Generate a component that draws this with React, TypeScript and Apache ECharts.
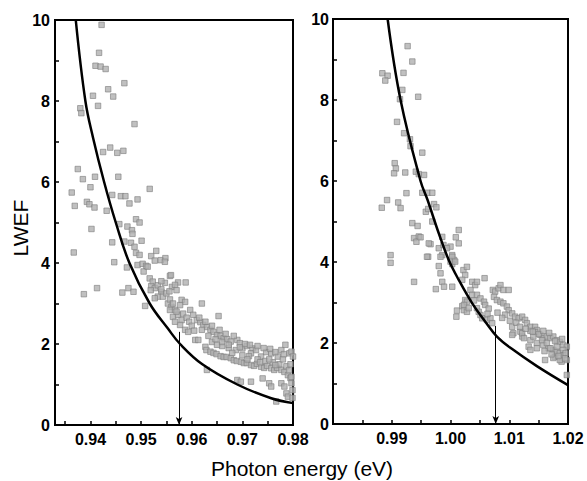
import React, { useEffect, useRef } from "react";
import * as echarts from "echarts";

// ---- Data ----
const leftCurveX = [0.9371, 0.939, 0.9405, 0.9427, 0.945, 0.9477, 0.9517, 0.9553, 0.9577, 0.9621, 0.969, 0.9757, 0.98];
const leftCurveY = [10, 8.0, 7.1, 6.0, 5.0, 4.0, 3.0, 2.38, 2.0, 1.5, 1.0, 0.66, 0.54];

const rightCurveX = [0.9893, 0.9915, 0.9949, 0.9961, 0.998, 0.9997, 1.0014, 1.0037, 1.0059, 1.0079, 1.0105, 1.0147, 1.02];
const rightCurveY = [10, 8.0, 6.0, 5.53, 4.71, 4.05, 3.56, 2.98, 2.53, 2.16, 1.85, 1.43, 0.96];

const leftArrow = { x: 0.9575, top: 2.3 };
const rightArrow = { x: 1.0077, top: 2.42 };

const leftPoints: [number, number][] = [
  [0.9422, 9.88], [0.9417, 9.19], [0.941, 8.87], [0.942, 8.85], [0.943, 8.79], [0.9467, 8.44], [0.9435, 8.29],
  [0.9445, 8.11], [0.9405, 8.13], [0.9415, 7.88], [0.938, 7.82], [0.9382, 7.7], [0.9487, 7.43], [0.9439, 6.85],
  [0.9425, 6.74], [0.9453, 6.72], [0.9465, 6.77], [0.9375, 6.32], [0.9385, 6.07], [0.9409, 6.13], [0.9455, 6.13],
  [0.94, 5.87], [0.9363, 5.74], [0.9517, 5.83], [0.9369, 5.41], [0.9393, 5.51], [0.9398, 5.45], [0.9408, 5.37],
  [0.9432, 5.29], [0.9443, 5.68], [0.946, 5.65], [0.9469, 5.65], [0.9477, 5.47], [0.9493, 5.57], [0.949, 5.08],
  [0.9497, 5.0], [0.9402, 4.84], [0.9473, 4.9], [0.9482, 4.81], [0.9483, 4.72], [0.9457, 4.96],
  [0.9367, 4.26], [0.9443, 4.51], [0.9467, 4.53], [0.948, 4.5], [0.9487, 4.4], [0.9501, 4.55], [0.949, 4.25],
  [0.9497, 4.2], [0.9447, 4.02], [0.9472, 3.89], [0.952, 4.17], [0.953, 4.3], [0.9527, 4.06], [0.9539, 4.07],
  [0.9548, 4.12], [0.9547, 4.03], [0.9493, 3.95], [0.9503, 3.98], [0.951, 3.93], [0.9505, 3.79], [0.9513, 3.91],
  [0.9557, 3.68], [0.9517, 3.62], [0.9523, 3.54], [0.952, 3.43], [0.9527, 3.38], [0.9519, 3.33], [0.9547, 3.51],
  [0.9561, 3.41], [0.9413, 3.38], [0.9387, 3.23], [0.9463, 3.27], [0.9475, 3.38], [0.9485, 3.29], [0.954, 3.29],
  [0.9533, 3.17], [0.9527, 3.13], [0.9543, 3.17], [0.9553, 3.0], [0.956, 2.92], [0.9557, 2.84], [0.9508, 2.94],
  [0.9559, 3.7], [0.9573, 3.52], [0.9588, 3.52], [0.9567, 3.46], [0.957, 3.33], [0.958, 3.09], [0.9587, 3.04],
  [0.9577, 2.96], [0.962, 3.0], [0.9653, 2.69],
  [0.9567, 2.84], [0.9563, 2.67], [0.9573, 2.72], [0.958, 2.59], [0.9577, 2.47], [0.9567, 2.55], [0.9587, 2.35],
  [0.9593, 2.3], [0.9607, 2.1], [0.9613, 2.1], [0.9627, 1.93],
  [0.9597, 2.84], [0.9603, 2.72], [0.961, 2.59], [0.9617, 2.54], [0.9623, 2.47], [0.963, 2.42], [0.9637, 2.35],
  [0.9643, 2.3], [0.965, 2.22], [0.9657, 2.2], [0.9663, 2.14], [0.967, 2.12], [0.9677, 2.06], [0.969, 2.1],
  [0.97, 1.89], [0.9709, 1.95], [0.972, 1.89], [0.9717, 1.77], [0.9727, 1.85], [0.9737, 1.69], [0.9747, 1.8],
  [0.9757, 1.77], [0.977, 1.69], [0.9777, 1.85], [0.9785, 1.98], [0.9793, 1.77], [0.9797, 1.81], [0.98, 1.69],
  [0.9629, 1.85], [0.9637, 1.81], [0.9643, 1.78], [0.9649, 1.75], [0.9657, 1.7], [0.9663, 1.68], [0.9669, 1.68],
  [0.9677, 1.65], [0.9683, 1.6], [0.9689, 1.58], [0.9697, 1.56], [0.9703, 1.53], [0.9709, 1.53], [0.9717, 1.48],
  [0.9723, 1.46], [0.9729, 1.51], [0.9737, 1.44], [0.9743, 1.41], [0.9749, 1.46], [0.9757, 1.4], [0.9763, 1.36],
  [0.9769, 1.41], [0.9777, 1.36], [0.9783, 1.31], [0.979, 1.23], [0.9795, 1.16],
  [0.963, 1.36], [0.969, 1.11], [0.9697, 1.07], [0.9717, 1.07], [0.974, 1.15], [0.9753, 1.03], [0.9757, 0.95],
  [0.9767, 0.58], [0.9777, 1.03], [0.9783, 0.95], [0.9787, 0.78], [0.979, 0.7], [0.9797, 1.19], [0.9797, 1.03],
  [0.9799, 0.86], [0.9799, 0.67],
  [0.9533, 3.45], [0.954, 3.35], [0.955, 3.25], [0.9557, 3.1], [0.9563, 3.0], [0.957, 2.8], [0.9583, 2.75],
  [0.959, 2.65], [0.9595, 2.55], [0.96, 2.45], [0.9605, 2.33], [0.954, 3.55], [0.9556, 3.3],
  [0.966, 1.95], [0.9673, 1.9], [0.9687, 1.85], [0.97, 1.72], [0.9713, 1.7], [0.973, 1.62], [0.9745, 1.58],
  [0.976, 1.55], [0.9773, 1.5], [0.9787, 1.45], [0.9795, 1.5], [0.964, 2.05], [0.965, 1.98], [0.968, 1.78],
  [0.971, 1.62], [0.9735, 1.55], [0.9753, 1.62], [0.9765, 1.48], [0.978, 1.62], [0.9792, 1.35],
  [0.9615, 2.65], [0.9627, 2.55], [0.964, 2.45], [0.9655, 2.35], [0.9667, 2.25], [0.9683, 2.2], [0.9695, 2.02],
  [0.9705, 2.0], [0.9715, 1.98], [0.973, 1.95], [0.9742, 1.9], [0.9755, 1.88], [0.9765, 1.8], [0.9782, 1.75],
  [0.962, 2.35], [0.9633, 2.2], [0.9647, 2.12], [0.966, 2.05], [0.9673, 1.98], [0.9695, 1.92],
];

const rightPoints: [number, number][] = [
  [0.9927, 9.33], [0.9935, 8.95], [0.9884, 8.66], [0.9893, 8.6], [0.9889, 8.48], [0.992, 8.67], [0.9914, 8.02],
  [0.9945, 8.08], [0.9918, 8.25], [0.9909, 7.46], [0.9921, 7.18], [0.9931, 7.03], [0.9932, 6.86], [0.9952, 6.7],
  [0.9905, 6.44], [0.9907, 6.31], [0.9904, 6.19], [0.9923, 6.21], [0.9941, 6.23], [0.9946, 6.17], [0.9955, 6.15],
  [0.9925, 5.7], [0.9952, 5.71], [0.9961, 5.71], [0.9969, 5.71], [0.9892, 5.53], [0.9883, 5.34], [0.9911, 5.47],
  [0.9915, 5.33], [0.9958, 5.24], [0.9962, 5.31], [0.9972, 5.43], [0.9976, 5.35], [0.9935, 4.96], [0.9944, 4.89],
  [1.0014, 4.79], [1.0009, 4.61], [0.9938, 4.59], [0.9946, 4.63],
  [0.9969, 5.0], [0.9942, 4.5], [0.9949, 4.61], [0.9966, 4.44], [0.998, 4.34], [0.9986, 4.17], [1.0, 4.38],
  [1.0014, 4.46], [0.9898, 4.17], [0.9898, 3.98], [0.9962, 4.13], [0.9983, 4.13], [1.0003, 4.17], [1.0006, 4.05],
  [1.0003, 3.95], [0.998, 3.9], [0.9983, 3.72], [1.0022, 3.8], [1.0028, 3.88], [1.0025, 3.68], [1.002, 3.56],
  [1.0037, 3.51], [1.0042, 3.43], [1.0045, 3.51], [0.9938, 3.51], [0.9986, 3.51], [0.9989, 3.39], [1.0003, 3.39],
  [0.9975, 3.33],
  [1.001, 2.65], [1.0011, 2.8], [1.002, 2.91], [1.0023, 2.81], [1.0025, 3.06], [1.0028, 3.02], [1.0058, 3.6],
  [1.0034, 3.31], [1.0037, 3.19], [1.0045, 3.19], [1.0051, 3.1], [1.0057, 3.02], [1.0059, 2.94], [1.0045, 2.86],
  [1.0048, 2.77], [1.0051, 2.69], [1.0054, 2.61], [1.0062, 2.57], [1.0068, 2.61], [1.0071, 2.49], [1.0072, 3.31],
  [1.0076, 3.27], [1.0082, 3.35], [1.0085, 3.43], [1.009, 3.31], [1.0074, 3.14], [1.0079, 3.06], [1.0085, 3.02],
  [1.009, 2.98], [1.0096, 2.9], [1.0099, 2.81], [1.0099, 3.31], [1.0105, 2.73], [1.011, 2.65], [1.0116, 2.61],
  [1.0122, 2.65], [1.0127, 2.57], [1.0105, 2.4], [1.0107, 2.24], [1.0119, 2.28], [1.0122, 2.16], [1.013, 2.49],
  [1.0136, 2.4], [1.0144, 2.4], [1.0147, 2.32],
  [1.0153, 2.2], [1.0158, 2.12], [1.0164, 2.16], [1.017, 2.12], [1.0175, 2.16], [1.0181, 2.07], [1.0186, 2.03],
  [1.0192, 1.95], [1.0198, 1.91],
  [1.0158, 1.95], [1.0167, 1.87], [1.0175, 1.83], [1.0181, 1.79], [1.0186, 1.75], [1.0192, 1.7], [1.0161, 1.58],
  [1.0178, 1.66], [1.0189, 1.54], [1.0198, 1.21],
  [0.9986, 4.62], [0.9988, 4.42], [0.9994, 4.34], [1.0003, 4.13], [1.0, 4.01], [1.0008, 4.01], [1.0023, 2.94],
  [1.0028, 2.77], [1.0031, 2.86], [1.0133, 1.91], [1.0136, 2.3], [1.0144, 2.27], [1.015, 2.22],
  [1.0105, 2.2], [1.0122, 2.24], [1.0125, 2.12], [1.0136, 2.07], [1.0141, 2.16], [1.0147, 2.0], [1.0156, 2.07],
  [1.0164, 2.0], [1.017, 1.87], [1.0181, 1.91], [1.0186, 1.58], [1.0192, 1.83], [1.0175, 1.63], [1.0198, 1.58],
  [1.0136, 1.83], [1.0147, 1.87], [0.9963, 4.46], [0.996, 4.13],
  [1.0065, 2.85], [1.008, 2.75], [1.0093, 2.7], [1.0112, 2.5], [1.0118, 2.4], [1.0128, 2.35], [1.014, 2.28],
  [1.0158, 2.3], [1.0168, 2.25], [1.0178, 2.05], [1.019, 2.1], [1.0196, 1.75], [1.016, 1.8], [1.0172, 1.72],
  [1.0184, 1.68], [1.0195, 1.62], [1.004, 3.05], [1.0063, 2.72], [1.0088, 2.62], [1.0101, 2.55],
];

const yTickLabels = ["0", "2", "4", "6", "8", "10"];

const FONT = '"Liberation Sans", Arial, sans-serif';

function zip(xs: number[], ys: number[]): [number, number][] {
  return xs.map((x, i) => [x, ys[i]]);
}

export default function App() {
  const ref = useRef<HTMLDivElement>(null);

  useEffect(() => {
    if (!ref.current) return;
    const chart = echarts.init(ref.current, undefined, { renderer: "svg" });

    const tickLabelStyle = {
      color: "#000",
      fontFamily: FONT,
      fontWeight: "bold" as const,
      fontSize: 16,
    };

    const xBase = {
      type: "value" as const,
      axisLine: { show: true, onZero: false, lineStyle: { color: "#000", width: 2 } },
      axisTick: { show: true, inside: true, length: 4, lineStyle: { color: "#000", width: 1.5 } },
      splitLine: { show: false },
    };

    const yBase = {
      type: "value" as const,
      min: 0,
      max: 10,
      interval: 1,
      axisLine: { show: true, lineStyle: { color: "#000", width: 2 } },
      axisTick: { show: true, inside: true, length: 4, lineStyle: { color: "#000", width: 1.5 } },
      splitLine: { show: false },
      axisLabel: {
        ...tickLabelStyle,
        margin: 5,
        formatter: (v: number) => {
          const s = String(Math.round(v));
          return yTickLabels.includes(s) ? s : "";
        },
      },
    };

    const isHundredth = (v: number) => Math.abs(v * 100 - Math.round(v * 100)) < 1e-6;

    const arrowMark = (a: { x: number; top: number }) => ({
      silent: true,
      symbol: ["none", "arrow"],
      symbolSize: [5, 8],
      label: { show: false },
      lineStyle: { color: "#000", width: 1, type: "solid" as const },
      data: [[{ coord: [a.x, a.top] }, { coord: [a.x, 0] }]],
    });

    const scatterStyle = {
      color: "#b0b0b0",
      borderColor: "#808080",
      borderWidth: 0.8,
    };

    chart.setOption({
      animation: false,
      backgroundColor: "#fff",
      grid: [
        { left: 55, top: 20, width: 238, height: 405, show: true, borderColor: "#000", borderWidth: 2, backgroundColor: "transparent" },
        { left: 333, top: 19, width: 235, height: 405, show: true, borderColor: "#000", borderWidth: 2, backgroundColor: "transparent" },
      ],
      xAxis: [
        {
          ...xBase,
          gridIndex: 0,
          min: 0.933,
          max: 0.98,
          minInterval: 0.005,
          maxInterval: 0.005,
          axisLabel: {
            ...tickLabelStyle,
            margin: 6,
            showMinLabel: false,
            formatter: (v: number) => (isHundredth(v) ? v.toFixed(2) : ""),
          },
        },
        {
          ...xBase,
          gridIndex: 1,
          min: 0.98,
          max: 1.02,
          interval: 0.005,
          axisLabel: {
            ...tickLabelStyle,
            margin: 6,
            formatter: (v: number) => (v > 0.985 && isHundredth(v) ? v.toFixed(2) : ""),
          },
        },
      ],
      yAxis: [
        { ...yBase, gridIndex: 0 },
        { ...yBase, gridIndex: 1, axisLabel: { ...yBase.axisLabel, margin: 4 } },
      ],
      series: [
        {
          type: "scatter",
          xAxisIndex: 0,
          yAxisIndex: 0,
          symbol: "rect",
          symbolSize: 5.5,
          itemStyle: scatterStyle,
          data: leftPoints,
          z: 2,
        },
        {
          type: "line",
          xAxisIndex: 0,
          yAxisIndex: 0,
          data: zip(leftCurveX, leftCurveY),
          smooth: 0.4,
          showSymbol: false,
          lineStyle: { color: "#000", width: 2.5 },
          markLine: arrowMark(leftArrow),
          z: 3,
        },
        {
          type: "scatter",
          xAxisIndex: 1,
          yAxisIndex: 1,
          symbol: "rect",
          symbolSize: 5.5,
          itemStyle: scatterStyle,
          data: rightPoints,
          z: 2,
        },
        {
          type: "line",
          xAxisIndex: 1,
          yAxisIndex: 1,
          data: zip(rightCurveX, rightCurveY),
          smooth: 0.4,
          showSymbol: false,
          lineStyle: { color: "#000", width: 2.5 },
          markLine: arrowMark(rightArrow),
          z: 3,
        },
      ],
      graphic: [
        {
          type: "text",
          x: 20,
          y: 228,
          rotation: Math.PI / 2,
          style: {
            text: "LWEF",
            fill: "#000",
            font: `21px ${FONT}`,
            textAlign: "center",
            textVerticalAlign: "middle",
            align: "center",
            verticalAlign: "middle",
          },
        },
        {
          type: "text",
          x: 302,
          y: 468,
          style: {
            text: "Photon energy (eV)",
            fill: "#000",
            font: `21px ${FONT}`,
            textAlign: "center",
            textVerticalAlign: "middle",
            align: "center",
            verticalAlign: "middle",
          },
        },
      ],
    });

    return () => chart.dispose();
  }, []);

  return (
    <div
      ref={ref}
      style={{ position: "fixed", left: 0, top: 0, width: 587, height: 481, background: "#fff" }}
    />
  );
}
